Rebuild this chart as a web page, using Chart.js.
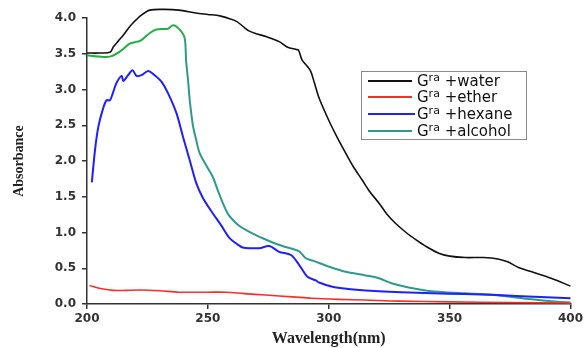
<!DOCTYPE html>
<html>
<head>
<meta charset="utf-8">
<script src="https://cdn.jsdelivr.net/npm/chart.js@4/dist/chart.umd.min.js"></script>
<style>
html,body{margin:0;padding:0;background:#fff;}
#wrap{width:586px;height:348px;}
</style>
</head>
<body>
<div id="wrap"><canvas id="c" width="586" height="348"></canvas></div>
<script>
// ---- data ----
const seriesLabels = ['Gra +water', 'Gra +ether', 'Gra +hexane', 'Gra +alcohol'];
const xTicks = [200, 250, 300, 350, 400];
const yTicks = [0.0, 0.5, 1.0, 1.5, 2.0, 2.5, 3.0, 3.5, 4.0];

const waterNm  = [200,205,209.5,211,213,215,217,219,222.5,226,232,238,245,250,255,259,262,265,267,270,274,279.5,283,286.5,287.5,289,291,292.6,294,296,300,303.5,307,310,313.9,317,320.8,324,327.6,332,336,340,345.5,350,356.5,364,370,374,378.5,384,392,400];
const waterAbs = [3.51,3.51,3.52,3.60,3.68,3.76,3.85,3.93,4.04,4.11,4.12,4.11,4.07,4.05,4.03,3.99,3.95,3.87,3.82,3.78,3.74,3.67,3.59,3.56,3.55,3.41,3.33,3.25,3.10,2.88,2.57,2.33,2.11,1.93,1.73,1.57,1.41,1.26,1.13,1.00,0.90,0.81,0.71,0.67,0.65,0.65,0.63,0.59,0.51,0.45,0.36,0.25];

const etherNm  = [201,205,210.8,216,221.8,230,238,250,257.6,265,274,285,293,304,315,329,350,375,400];
const etherAbs = [0.26,0.22,0.19,0.19,0.195,0.185,0.165,0.165,0.165,0.145,0.125,0.10,0.08,0.065,0.055,0.04,0.03,0.02,0.015];

const hexaneNm  = [202,203.3,204.7,206.7,208.1,209.5,210.8,212.2,214.3,215,217,218.8,220.5,222.5,225.3,228,230.8,233.5,237,239.7,242.5,245.2,248,252,255.5,259,262,264.4,268,271.3,275.4,279.5,284.4,287.8,291.2,294.7,296,301.5,308,315.3,330,342.8,356,370,385,400];
const hexaneAbs = [1.70,2.15,2.48,2.74,2.85,2.85,2.96,3.09,3.19,3.12,3.20,3.27,3.19,3.20,3.26,3.20,3.11,2.95,2.67,2.34,2.01,1.69,1.48,1.27,1.10,0.92,0.84,0.79,0.78,0.78,0.81,0.73,0.685,0.545,0.38,0.33,0.30,0.24,0.21,0.19,0.165,0.15,0.14,0.125,0.10,0.08];

const alcoholNm  = [200,205,209.5,213.6,217.7,221,222.5,226,228.7,233.5,235.6,238.3,240.4,241,241.8,242.5,243.8,245.2,246.6,249.3,252,254,256.2,258.5,261.7,264,267.2,272.7,279.6,286.4,288,290.5,294,300.2,307,315.3,320.8,326,333,340,348,356.5,367.5,375,384,392,400];
const alcoholAbs = [3.48,3.46,3.46,3.53,3.64,3.67,3.69,3.79,3.84,3.85,3.90,3.84,3.72,3.40,3.13,2.85,2.50,2.29,2.11,1.94,1.78,1.60,1.41,1.25,1.13,1.07,1.01,0.92,0.825,0.755,0.73,0.64,0.60,0.52,0.45,0.40,0.36,0.29,0.23,0.19,0.165,0.15,0.13,0.10,0.065,0.04,0.02];

// ---- styles ----
const colors = ['#111111', '#ff2a2a', '#1f1fff', '#2e9a8c'];
const alcoholGreen = '#22b043';
const widths = [1.6, 1.6, 2, 2];

function pts(xs, ys){ return xs.map((x,i)=>({x:x, y:ys[i]})); }

const legendPlugin = {
  id: 'customLegend',
  afterDraw(chart){
    const ctx = chart.ctx;
    const bx = 361, by = 71, bw = 165, bh = 68;
    ctx.save();
    ctx.strokeStyle = '#8a8a8a';
    ctx.lineWidth = 1;
    ctx.strokeRect(bx + 0.5, by + 0.5, bw, bh);
    const rows = [81, 97, 114, 131];
    seriesLabels.forEach((lab, i) => {
      const y = rows[i];
      ctx.strokeStyle = colors[i];
      ctx.lineWidth = 1.8;
      ctx.beginPath();
      ctx.moveTo(368, y);
      ctx.lineTo(i === 2 ? 415 : 412, y);
      ctx.stroke();
      ctx.fillStyle = '#111';
      ctx.textBaseline = 'middle';
      let x = 417;
      ctx.font = '15px "DejaVu Sans", sans-serif';
      ctx.fillText(lab.charAt(0), x, y + 1);
      x += ctx.measureText(lab.charAt(0)).width;
      ctx.font = '11px "DejaVu Sans", sans-serif';
      ctx.fillText(lab.substring(1,3), x, y - 3);
      x += ctx.measureText(lab.substring(1,3)).width;
      ctx.font = '15px "DejaVu Sans", sans-serif';
      ctx.fillText(lab.substring(3), x, y + 1);
    });
    ctx.restore();
  }
};

const bgPlugin = {
  id: 'bg',
  beforeDraw(chart){
    const ctx = chart.ctx;
    ctx.save(); ctx.fillStyle = '#fff'; ctx.fillRect(0,0,chart.width,chart.height); ctx.restore();
  }
};

const series = [
  pts(waterNm, waterAbs),
  pts(etherNm, etherAbs),
  pts(hexaneNm, hexaneAbs),
  pts(alcoholNm, alcoholAbs)
];

new Chart(document.getElementById('c'), {
  type: 'line',
  data: {
    datasets: series.map((d, i) => {
      const ds = {
        label: seriesLabels[i],
        data: d,
        borderColor: colors[i],
        borderWidth: widths[i],
        pointRadius: 0,
        tension: 0.3,
        fill: false,
        clip: false
      };
      if (i === 3) {
        ds.segment = { borderColor: c => (c.p0.parsed.x < 240.3 ? alcoholGreen : colors[3]) };
      }
      return ds;
    })
  },
  options: {
    responsive: false,
    animation: false,
    layout: { padding: { left: 0, right: 14, top: 18, bottom: 0 } },
    plugins: { legend: { display: false }, tooltip: { enabled: false } },
    scales: {
      x: {
        type: 'linear',
        min: 200, max: 400,
        afterFit: s => { s.height = 44; },
        afterBuildTicks: s => { s.ticks = xTicks.map(v => ({ value: v })); },
        grid: { drawOnChartArea: false, tickLength: 5, color: '#333', lineWidth: 1.5 },
        border: { color: '#333', width: 1.5 },
        ticks: { color: '#333', padding: 3, font: { family: '"DejaVu Sans", sans-serif', size: 12, weight: 'bold' }, maxRotation: 0 },
        title: { display: true, text: 'Wavelength(nm)', color: '#222', padding: { top: 0, bottom: 0 }, font: { family: '"Liberation Serif", serif', size: 16, weight: 'bold' } }
      },
      y: {
        type: 'linear',
        min: 0, max: 4,
        afterFit: s => { s.width = 87; },
        afterBuildTicks: s => { s.ticks = yTicks.map(v => ({ value: v })); },
        grid: { drawOnChartArea: false, tickLength: 5, color: '#333', lineWidth: 1.5 },
        border: { color: '#333', width: 1.5 },
        ticks: { color: '#333', padding: 6, font: { family: '"DejaVu Sans", sans-serif', size: 12, weight: 'bold' }, callback: v => v.toFixed(1) },
        title: { display: true, text: 'Absorbance', color: '#222', padding: { top: 11, bottom: 0 }, font: { family: '"Liberation Serif", serif', size: 14, weight: 'bold' } }
      }
    }
  },
  plugins: [bgPlugin, legendPlugin]
});
</script>
</body>
</html>
